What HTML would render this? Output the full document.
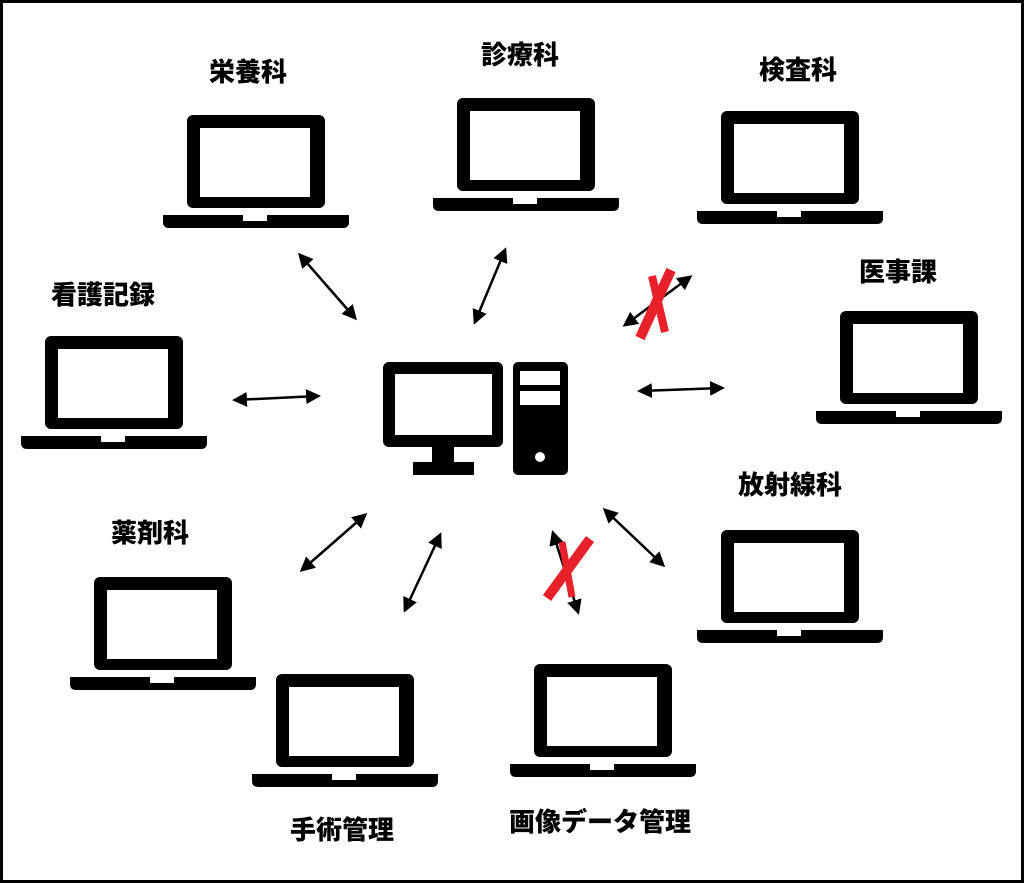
<!DOCTYPE html>
<html><head><meta charset="utf-8"><style>
html,body{margin:0;padding:0;background:#fff;}
svg{display:block;}
text{font-family:"Liberation Sans","Noto Sans CJK JP",sans-serif;font-weight:900;font-size:26px;fill:#000;text-anchor:middle;}
</style></head><body>
<svg width="1024" height="883" viewBox="0 0 1024 883" xmlns="http://www.w3.org/2000/svg">
<defs>
<marker id="a" viewBox="0 0 10 10" refX="8" refY="5" markerWidth="6" markerHeight="6" orient="auto-start-reverse"><path d="M0,0L10,5L0,10z" fill="#000"/></marker>
<g id="lap">
<rect x="24" y="0" width="138" height="93" rx="6" fill="#000"/>
<rect x="37" y="13" width="110" height="69" fill="#fff"/>
<path d="M0,100H186V107Q186,113 180,113H6Q0,113 0,107z" fill="#000"/>
<rect x="80" y="100" width="24" height="6" fill="#fff"/>
</g>
</defs>
<rect x="1.5" y="1.5" width="1021" height="880" fill="#fff" stroke="#000" stroke-width="3"/>
<use href="#lap" x="163" y="115"/>
<use href="#lap" x="433" y="98"/>
<use href="#lap" x="697" y="111"/>
<use href="#lap" x="816" y="311"/>
<use href="#lap" x="21" y="336"/>
<use href="#lap" x="697" y="530"/>
<use href="#lap" x="70" y="577"/>
<use href="#lap" x="252" y="674"/>
<use href="#lap" x="510" y="664"/>
<rect x="383" y="362" width="120" height="85" rx="6" fill="#000"/>
<rect x="395" y="374" width="97" height="61" fill="#fff"/>
<rect x="432" y="445" width="22" height="18" fill="#000"/>
<rect x="413" y="462" width="61" height="13" fill="#000"/>
<rect x="513" y="362" width="55" height="113" rx="5" fill="#000"/>
<rect x="520" y="371" width="40" height="14" fill="#fff"/>
<rect x="520" y="391" width="40" height="14" fill="#fff"/>
<circle cx="540" cy="457" r="5" fill="#fff"/>
<g stroke="#000" stroke-width="2.5" marker-start="url(#a)" marker-end="url(#a)">
<line x1="300" y1="255" x2="355" y2="318"/>
<line x1="505" y1="250" x2="475" y2="322"/>
<line x1="625" y1="325" x2="690" y2="277"/>
<line x1="640" y1="391" x2="722" y2="388"/>
<line x1="235" y1="400" x2="318" y2="396"/>
<line x1="605" y1="510" x2="663" y2="565"/>
<line x1="365" y1="515" x2="302" y2="570"/>
<line x1="440" y1="535" x2="405" y2="610"/>
<line x1="553" y1="533" x2="578" y2="612"/>
</g>
<g stroke="#e8202a" stroke-linecap="butt">
<line x1="671" y1="270" x2="640" y2="338" stroke-width="10"/>
<line x1="652" y1="276" x2="665" y2="332" stroke-width="8"/>
<line x1="590" y1="539" x2="547" y2="598" stroke-width="10"/>
<line x1="562" y1="542" x2="572" y2="597" stroke-width="7"/>
</g>
<text x="248" y="81">栄養科</text>
<text x="520" y="64">診療科</text>
<text x="798" y="79">検査科</text>
<text x="898" y="281">医事課</text>
<text x="103" y="304">看護記録</text>
<text x="790" y="494">放射線科</text>
<text x="150" y="542">薬剤科</text>
<text x="342" y="839">手術管理</text>
<text x="600" y="831">画像データ管理</text>
</svg>
</body></html>
